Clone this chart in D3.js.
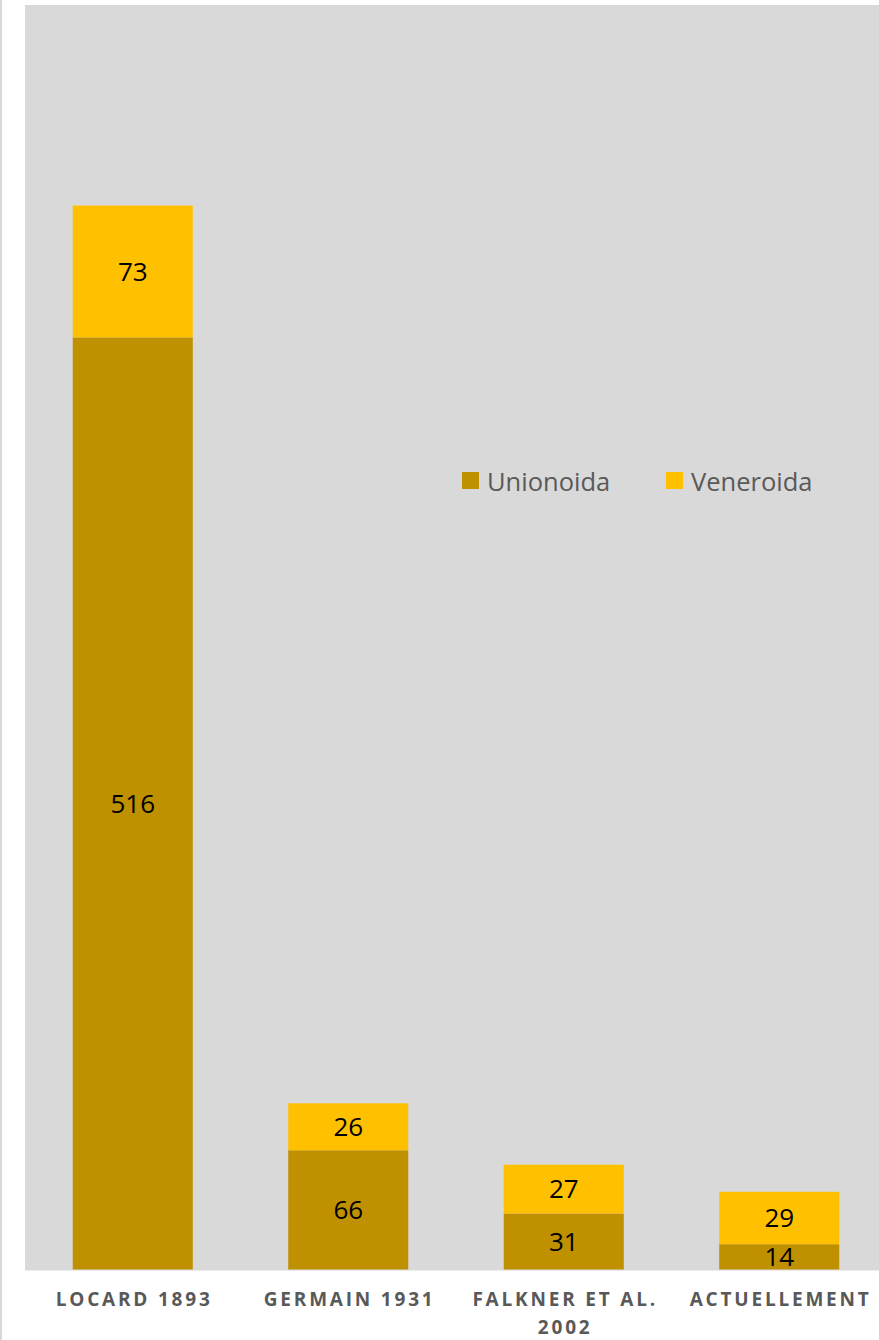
<!DOCTYPE html>
<html><head><meta charset="utf-8">
<script src="https://cdn.jsdelivr.net/npm/d3@7"></script>
<style>
html,body{margin:0;padding:0;background:#fff;}
svg{display:block;}
</style></head>
<body>
<script>
const categories = ["LOCARD 1893", "GERMAIN 1931", "FALKNER ET AL. 2002", "ACTUELLEMENT"];
const categoryLines = [["LOCARD 1893"], ["GERMAIN 1931"], ["FALKNER ET AL.", "2002"], ["ACTUELLEMENT"]];
const seriesNames = ["Unionoida", "Veneroida"];
const unionoida = [516, 66, 31, 14];
const veneroida = [73, 26, 27, 29];
const colors = ["#BF9000", "#FFC000"];

const W = 879, H = 1340;
const svg = d3.select("body").append("svg").attr("width", W).attr("height", H);

// chart border line on left
svg.append("line").attr("x1", 1).attr("x2", 1).attr("y1", 0).attr("y2", H)
  .attr("stroke", "#D9D9D9").attr("stroke-width", 2);

const plot = {left: 25, top: 5, bottom: 1269.5, right: 887};
svg.append("rect").attr("x", plot.left).attr("y", plot.top)
  .attr("width", W - plot.left).attr("height", plot.bottom - plot.top + 1)
  .attr("fill", "#D9D9D9");

const x = d3.scaleBand().domain(categories).range([plot.left, plot.right]).paddingInner(0.443).paddingOuter(0.2215);
const y = d3.scaleLinear().domain([0, 700]).range([plot.bottom, plot.top]);

const rows = categories.map((c, i) => ({cat: c, Unionoida: unionoida[i], Veneroida: veneroida[i]}));
const stacked = d3.stack().keys(seriesNames)(rows);

const g = svg.append("g");
stacked.forEach((s, si) => {
  const layer = g.append("g");
  layer.selectAll("rect").data(s).join("rect")
    .attr("x", d => x(d.data.cat))
    .attr("y", d => y(d[1]))
    .attr("width", x.bandwidth())
    .attr("height", d => y(d[0]) - y(d[1]))
    .attr("fill", colors[si]);
  layer.selectAll("text").data(s).join("text")
    .attr("x", d => x(d.data.cat) + x.bandwidth() / 2)
    .attr("y", d => (y(d[0]) + y(d[1])) / 2)
    .attr("dy", "0.36em")
    .attr("text-anchor", "middle")
    .attr("font-family", "'Open Sans', sans-serif")
    .attr("font-size", 26)
    .attr("fill", "#000")
    .text(d => d[1] - d[0]);
});

// x axis labels
const xl = svg.append("g");
categories.forEach((c, i) => {
  const t = xl.append("text")
    .attr("x", x(c) + x.bandwidth() / 2)
    .attr("y", 1306)
    .attr("text-anchor", "middle")
    .attr("font-family", "'Open Sans', sans-serif")
    .attr("font-weight", "bold")
    .attr("font-size", 19)
    .attr("letter-spacing", "2.8px")
    .attr("fill", "#595959");
  categoryLines[i].forEach((ln, j) => {
    t.append("tspan").attr("x", x(c) + x.bandwidth() / 2 + 1.4).attr("dy", j === 0 ? 0 : 28).text(ln);
  });
});

// legend
const legend = svg.append("g");
const legendX = [462, 666];
seriesNames.forEach((n, i) => {
  legend.append("rect").attr("x", legendX[i]).attr("y", 472).attr("width", 17).attr("height", 17).attr("fill", colors[i]);
  legend.append("text").attr("x", legendX[i] + 25).attr("y", 490.5)
    .attr("font-family", "'Open Sans', sans-serif").attr("font-size", 25.5)
    .attr("fill", "#595959").text(n);
});
</script>
</body></html>
